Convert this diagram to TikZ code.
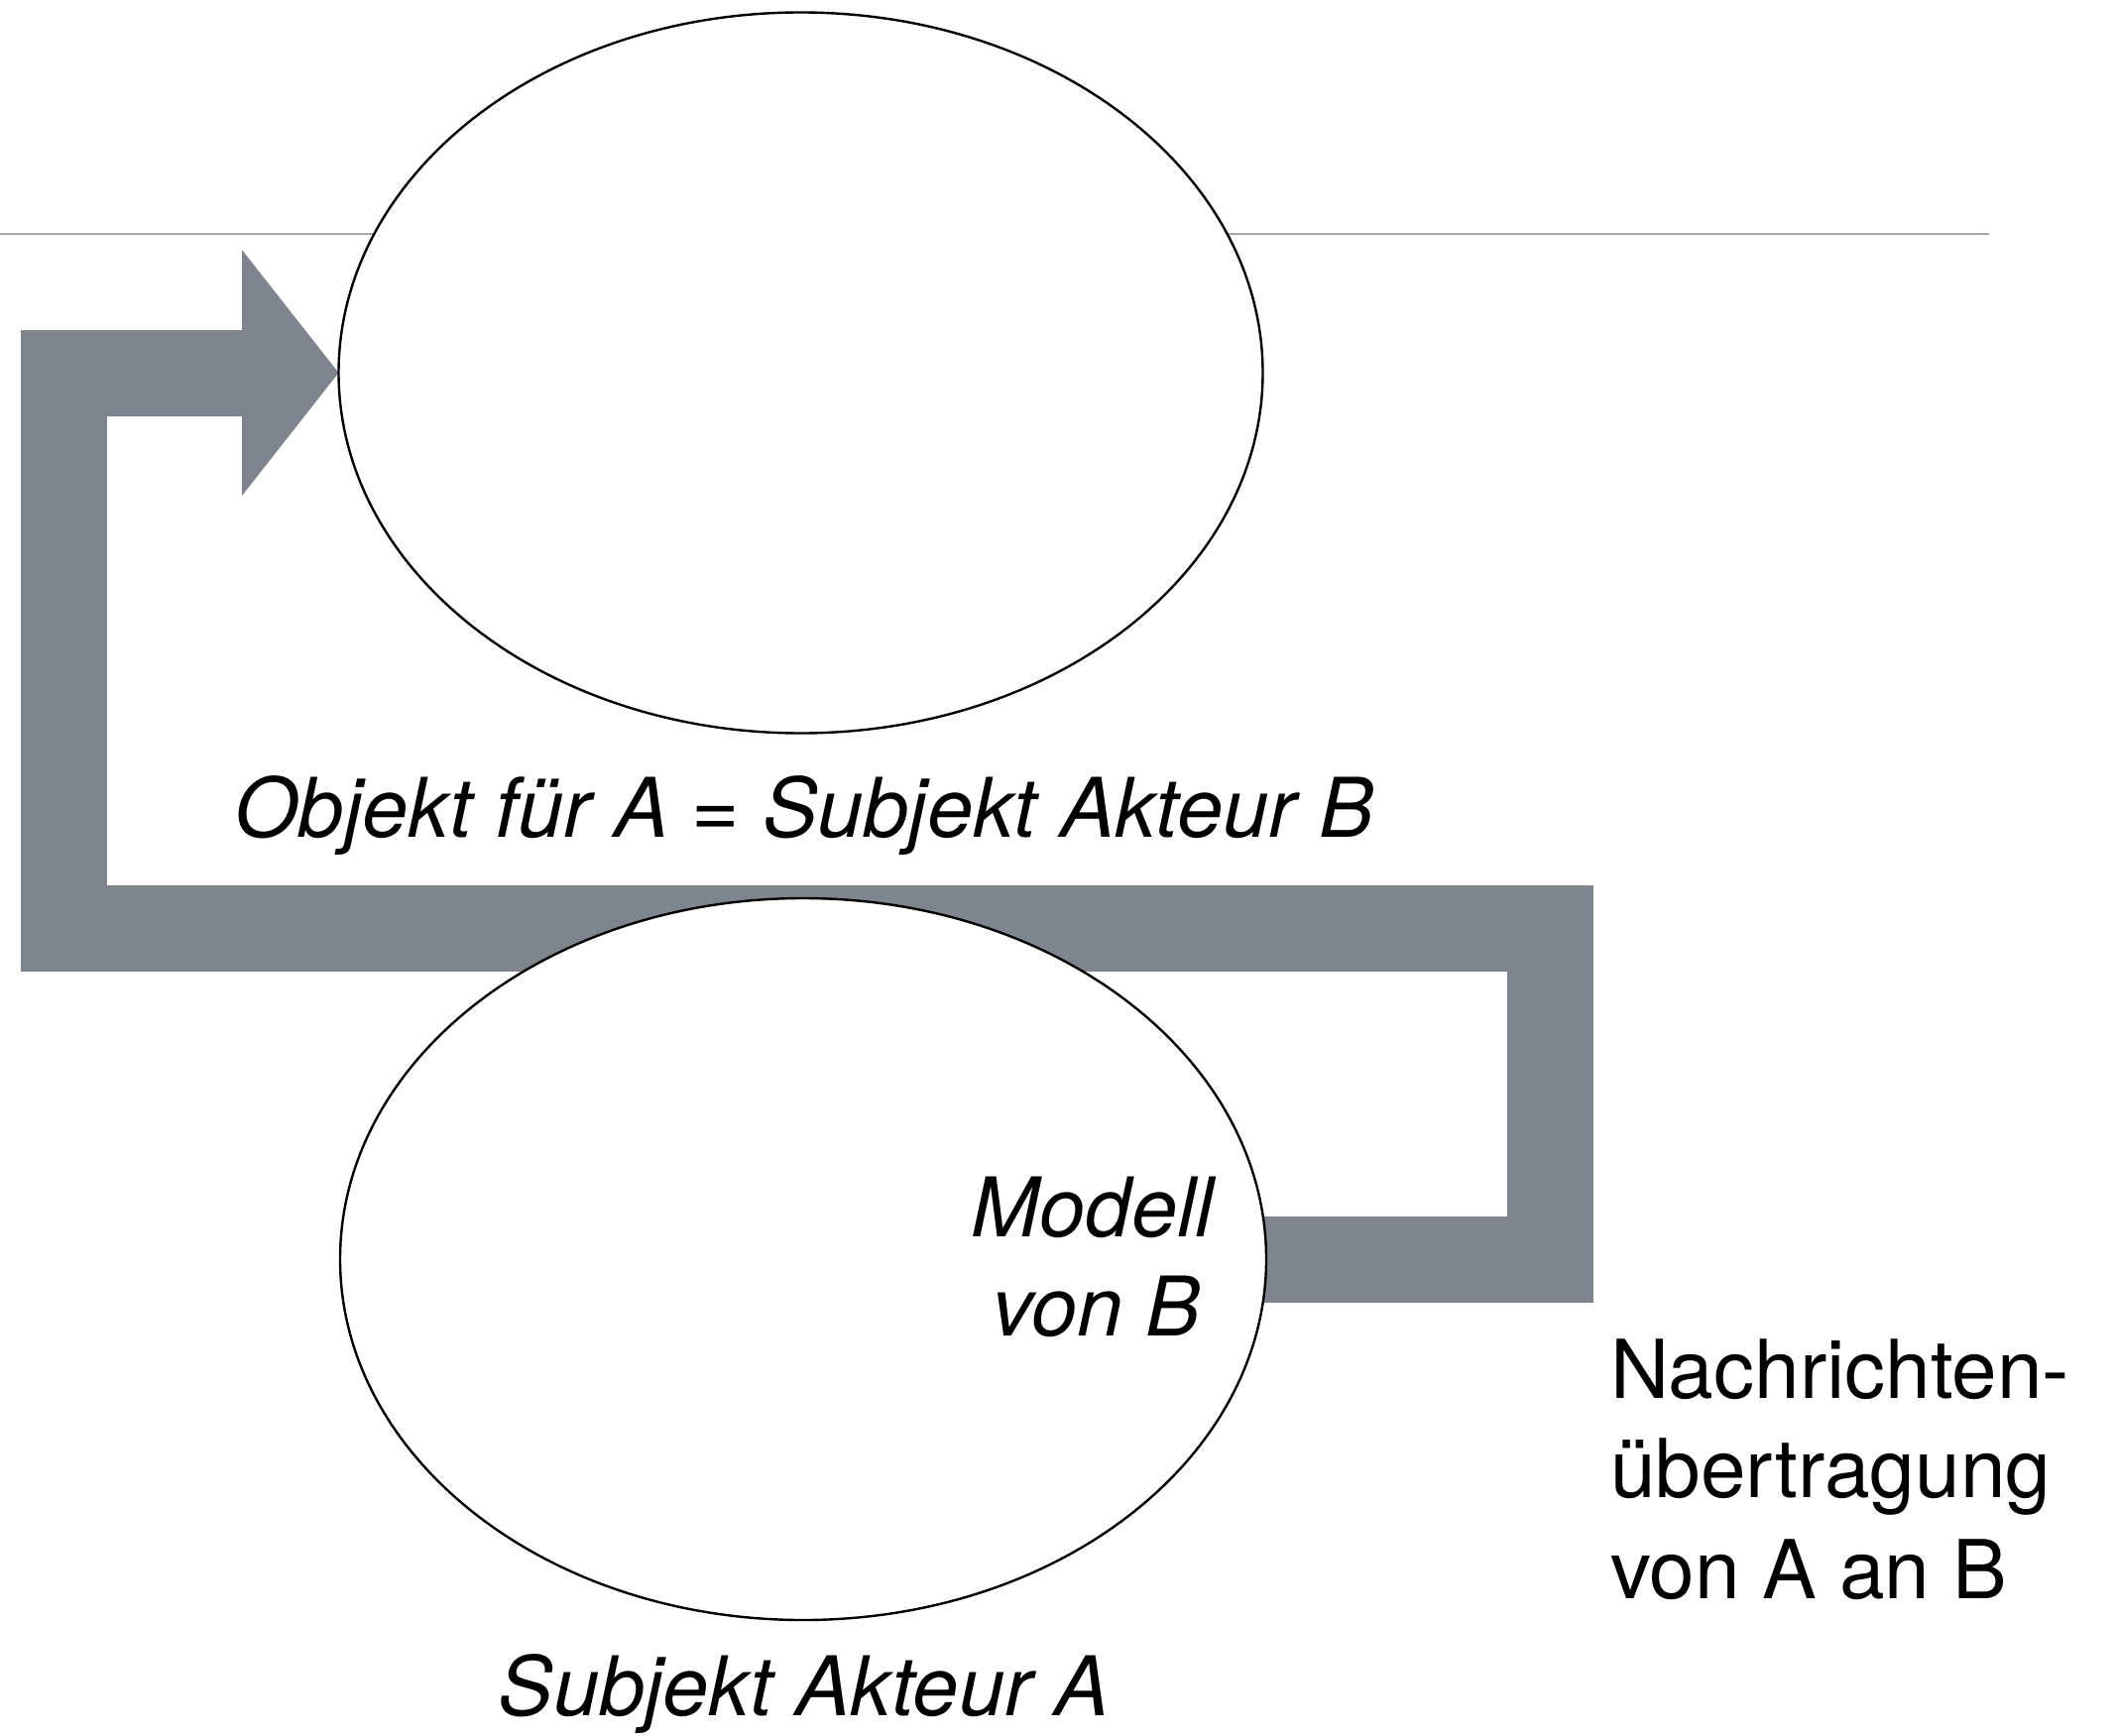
\documentclass[tikz,border=0pt]{standalone}
\usepackage{fontspec}
\setmainfont{TeX Gyre Heros}
\usetikzlibrary{shapes.geometric,backgrounds}
\definecolor{bandgray}{RGB}{127,133,143}
\definecolor{rulegray}{RGB}{165,165,165}
\begin{document}
\begin{tikzpicture}[x=0.5pt,y=-0.5pt,
  bubble/.style={ellipse, draw=black, line width=1.2pt, fill=white, inner sep=0pt, outer sep=0pt},
  band/.style={draw=bandgray, line width=43.5pt, line join=miter, line cap=butt},
  rulestyle/.style={draw=rulegray, line width=1pt},
  lblit/.style={font=\fontsize{41.5}{50}\selectfont\itshape, inner sep=0pt, outer sep=0pt},
  lblup/.style={font=\fontsize{41}{50}\selectfont, inner sep=0pt, outer sep=0pt}]
\useasboundingbox (0,0) rectangle (2135,1750);
% ellipses
\node[bubble, minimum width=467pt, minimum height=364pt] (sA) at (810,1270) {};
\node[bubble, minimum width=466pt, minimum height=363.5pt] (sB) at (807.5,376) {};
% path coordinates
\coordinate (c1) at (1563,1270);
\coordinate (c2) at (1563,936.5);
\coordinate (c3) at (64,936.5);
\coordinate (c4) at (64,376);
\coordinate (c5) at (252,376);
\coordinate (hTop) at (244,252);
\coordinate (hBot) at (244,500);
\coordinate (ruleL) at (0,235.5);
\coordinate (ruleR) at (2006,235.5);
\begin{scope}[on background layer]
  \fill[white] (0,0) rectangle (2135,1750);
  \draw[rulestyle] (ruleL) -- (ruleR);
  \draw[band] (sA.center) -- (c1) -- (c2) -- (c3) -- (c4) -- (c5);
  \fill[bandgray] (hTop) -- (sB.west) -- (hBot) -- cycle;
\end{scope}
% texts
\node[lblit, anchor=base] (tObj) at (811,844) {Objekt für A = Subjekt Akteur B};
\node[lblit, anchor=base] (tSubA) at (811,1730) {Subjekt Akteur A};
\node[lblit, anchor=base east] (tMod1) at (1224,1247) {Modell};
\node[lblit, anchor=base east] (tMod2) at (1211,1347) {von B};
\node[lblup, anchor=base west] (tN1) at (1624,1410) {Nachrichten-};
\node[lblup, anchor=base west] (tN2) at (1624,1510) {übertragung};
\node[lblup, anchor=base west] (tN3) at (1624,1612) {von A an B};
\end{tikzpicture}
\end{document}
